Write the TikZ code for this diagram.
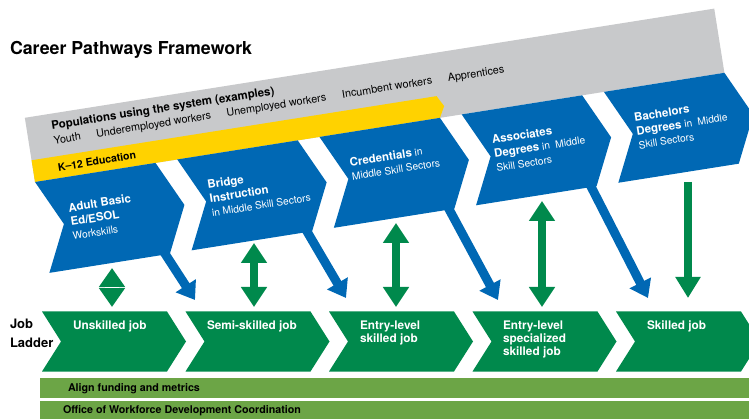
\documentclass[tikz,border=0pt]{standalone}
\usepackage{fontspec}
\setmainfont{TeX Gyre Heros}
\usetikzlibrary{arrows.meta}
\definecolor{cpblue}{RGB}{0,104,180}
\definecolor{cpgreen}{RGB}{0,137,76}
\definecolor{cplight}{RGB}{108,165,70}
\definecolor{cpgray}{RGB}{200,201,203}
\definecolor{cpyellow}{RGB}{255,210,0}
\newcommand\mylines[1]{\begin{tabular}[t]{@{}l@{}}#1\end{tabular}}
\newcommand\hb[1]{{\fontsize{11.5}{13.8}\selectfont\bfseries #1}}
\begin{document}
\begin{tikzpicture}[x=1pt,y=-1pt,
  txt/.style={inner sep=0pt, outer sep=0pt, anchor=base west},
  chevtext/.style={txt, text=white, font=\fontsize{10.2}{14}\selectfont},
  jobtext/.style={txt, text=white, font=\fontsize{11.8}{13}\selectfont\bfseries},
  bartext/.style={txt, font=\fontsize{10.7}{13}\selectfont\bfseries},
  poptext/.style={txt, font=\fontsize{10.8}{13}\selectfont},
  bluechev/.style={fill=cpblue},
  jobbox/.style={fill=cpgreen},
  bluearr/.style={draw=cpblue, line width=9pt, -{Triangle[width=23pt,length=17pt]}},
  greenarr/.style={draw=cpgreen, line width=7.5pt, {Triangle[width=25pt,length=20pt]}-{Triangle[width=25pt,length=20pt]}},
  greensmall/.style={draw=cpgreen, line width=7.5pt, {Triangle[width=25pt,length=19pt]}-{Triangle[width=25pt,length=19pt]}},
  greendown/.style={draw=cpgreen, line width=7.5pt, -{Triangle[width=24pt,length=21pt]}},
]
\useasboundingbox (0,0) rectangle (749,419);
\clip (0,0) rectangle (749,419);

% title
\node[txt, font=\fontsize{17.8}{20}\selectfont\bfseries] (title) at (10,55) {Career Pathways Framework};

% rotated upper part
\begin{scope}[shift={(35,182)}, rotate=9, transform shape]
  \fill[cpgray] (0,-65) rectangle (698,0);
  \fill[cpyellow] (0,-22) -- (410,-22) -- (416,-11) -- (410,0) -- (0,0) -- cycle;
  \foreach \i in {0,...,4}{
    \fill[bluechev] (144*\i,0) -- ++(122,0) -- ++(22,46) -- ++(-22,46) -- ++(-122,0) -- ++(22,-46) -- cycle;
  }
  \node[txt, font=\fontsize{11.5}{13}\selectfont\bfseries] (pop) at (25,-49) {Populations using the system (examples)};
  \node[poptext] (youth) at (25,-34.5) {Youth};
  \node[poptext] (under) at (68,-34.5) {Underemployed workers};
  \node[poptext] (unemp) at (200,-34.5) {Unemployed workers};
  \node[poptext] (incum) at (317,-34.5) {Incumbent workers};
  \node[poptext] (appr) at (424,-34.5) {Apprentices};
  \node[txt, font=\fontsize{10.5}{13}\selectfont\bfseries] (k12) at (25,-7) {K–12 Education};

  \node[chevtext] (c1) at (29,35) {\mylines{\hb{Adult Basic}\\ \hb{Ed/ESOL}\\ Workskills}};
  \node[chevtext] (c2) at (170,34) {\mylines{\hb{Bridge}\\ \hb{Instruction}\\ in Middle Skill Sectors}};
  \node[chevtext] (c3) at (314,34) {\mylines{\hb{Credentials} in\\ Middle Skill Sectors}};
  \node[chevtext] (c4) at (458,34) {\mylines{\hb{Associates}\\ \hb{Degrees} in~ Middle\\ Skill Sectors}};
  \node[chevtext] (c5) at (602,34) {\mylines{\hb{Bachelors}\\ \hb{Degrees} in~ Middle\\ Skill Sectors}};

  \coordinate (s1) at (114,84);
  \coordinate (s2) at (258,84);
  \coordinate (s3) at (402,84);
  \coordinate (s4) at (546,84);
\end{scope}

% job ladder boxes
\foreach \i in {0,...,4}{
  \fill[jobbox] ({42+143.5*\i},311.5) -- ++(125,0) -- ++(19,30) -- ++(-19,30) -- ++(-125,0) -- ++(19,-30) -- cycle;
}
\node[jobtext] (j1) at (73,330) {Unskilled job};
\node[jobtext] (j2) at (207,330) {Semi-skilled job};
\node[jobtext] (j3) at (360,330) {\mylines{Entry-level\\ skilled job}};
\node[jobtext] (j4) at (503,330) {\mylines{Entry-level\\ specialized\\ skilled job}};
\node[jobtext] (j5) at (647,330) {Skilled job};

\node[txt, font=\fontsize{13}{15}\selectfont\bfseries] (job) at (10,329) {Job};
\node[txt, font=\fontsize{13}{15}\selectfont\bfseries] (ladder) at (10,348) {Ladder};

% blue arrows
\coordinate (e1) at (195,300);
\coordinate (e2) at (346,298);
\coordinate (e3) at (498,300);
\coordinate (e4) at (648,298);
\draw[bluearr] (s1) -- (e1);
\draw[bluearr] (s2) -- (e2);
\draw[bluearr] (s3) -- (e3);
\draw[bluearr] (s4) -- (e4);

% green arrows
\coordinate (ga1) at (112,268); \coordinate (gb1) at (112,307);
\coordinate (ga2) at (254,243); \coordinate (gb2) at (254,307);
\coordinate (ga3) at (396,223); \coordinate (gb3) at (396,307);
\coordinate (ga4) at (542,201); \coordinate (gb4) at (542,307);
\coordinate (ga5) at (688,182); \coordinate (gb5) at (688,298);
\draw[greensmall] (ga1) -- (gb1);
\draw[white, line width=1.4pt] (105,287.5) -- (119,287.5);
\draw[greenarr] (ga2) -- (gb2);
\draw[greenarr] (ga3) -- (gb3);
\draw[greenarr] (ga4) -- (gb4);
\draw[greendown] (ga5) -- (gb5);

% bottom bars
\fill[cplight] (40,377.5) rectangle (760,397.5);
\fill[cplight] (40,400.5) rectangle (760,425);
\node[bartext] (align) at (68,391.7) {Align funding and metrics};
\node[bartext] (office) at (63,413) {Office of Workforce Development Coordination};
\end{tikzpicture}
\end{document}
